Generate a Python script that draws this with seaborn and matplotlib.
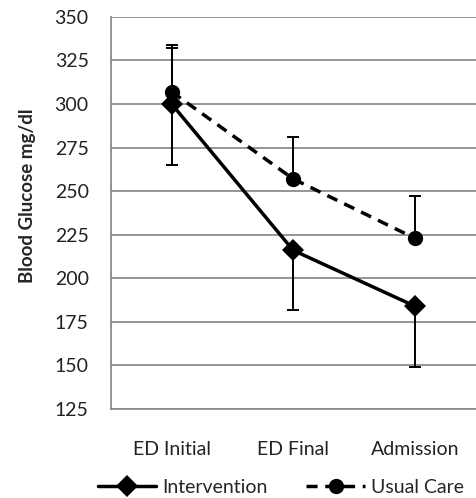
import matplotlib
matplotlib.use("Agg")
import matplotlib.pyplot as plt
import seaborn as sns
import pandas as pd
import numpy as np

stages = ["ED Initial", "ED Final", "Admission"]
intervention = [300, 216, 184]
intervention_err_low = [35, 34, 35]
intervention_err_high = [34, 0, 0]
usual_care = [307, 257, 223]
usual_care_err_low = [0, 0, 0]
usual_care_err_high = [25, 24, 24]
y_ticks = [125, 150, 175, 200, 225, 250, 275, 300, 325, 350]

sns.set_theme(style="white")
plt.rcParams["font.family"] = ["Lato", "DejaVu Sans"]

df = pd.DataFrame({
    "stage": stages * 2,
    "glucose": intervention + usual_care,
    "group": ["Intervention"] * 3 + ["Usual Care"] * 3,
})

fig = plt.figure(figsize=(4.76, 4.98), dpi=100)
ax = fig.add_axes([0.233, 0.179, 0.766, 0.787])

sns.lineplot(data=df, x="stage", y="glucose", hue="group", style="group",
             palette={"Intervention": "black", "Usual Care": "black"},
             dashes={"Intervention": "", "Usual Care": (3.2, 2.2)},
             markers={"Intervention": "D", "Usual Care": "o"},
             markersize=11, linewidth=2.5, markeredgewidth=0,
             sort=False, ax=ax, zorder=3)

pos = np.arange(len(stages))
ax.errorbar(pos, intervention, yerr=[intervention_err_low, intervention_err_high],
            fmt="none", ecolor="black", elinewidth=1.4, capsize=4, capthick=1.4, zorder=2)
ax.errorbar(pos, usual_care, yerr=[usual_care_err_low, usual_care_err_high],
            fmt="none", ecolor="black", elinewidth=1.4, capsize=4, capthick=1.4, zorder=2)

ax.set_xlim(-0.5, 2.5)
ax.set_ylim(125, 350)
ax.set_yticks(y_ticks)
ax.yaxis.grid(True, color="#8c8c8c", linewidth=1.3)
ax.xaxis.grid(False)
for s in ["top", "right"]:
    ax.spines[s].set_visible(False)
for s in ["left", "bottom"]:
    ax.spines[s].set_color("#8c8c8c")
    ax.spines[s].set_linewidth(1.3)
ax.tick_params(axis="y", length=0, pad=16, labelsize=14, colors="#222222")
ax.tick_params(axis="x", length=0, pad=23, labelsize=14, colors="#222222")
ax.set_xlabel("")
ax.set_ylabel("Blood Glucose mg/dl", fontsize=13.5, fontweight="bold")
ax.yaxis.set_label_coords(-0.206, 0.543)

handles, labels = ax.get_legend_handles_labels()
ax.legend_.remove()
fig.legend(handles, labels, loc="center", bbox_to_anchor=(0.59, 0.022),
           ncol=2, frameon=False, fontsize=14, handlelength=3.0,
           handletextpad=0.3, columnspacing=2.0, numpoints=1)

plt.savefig("out.png", dpi=100)
plt.close()
